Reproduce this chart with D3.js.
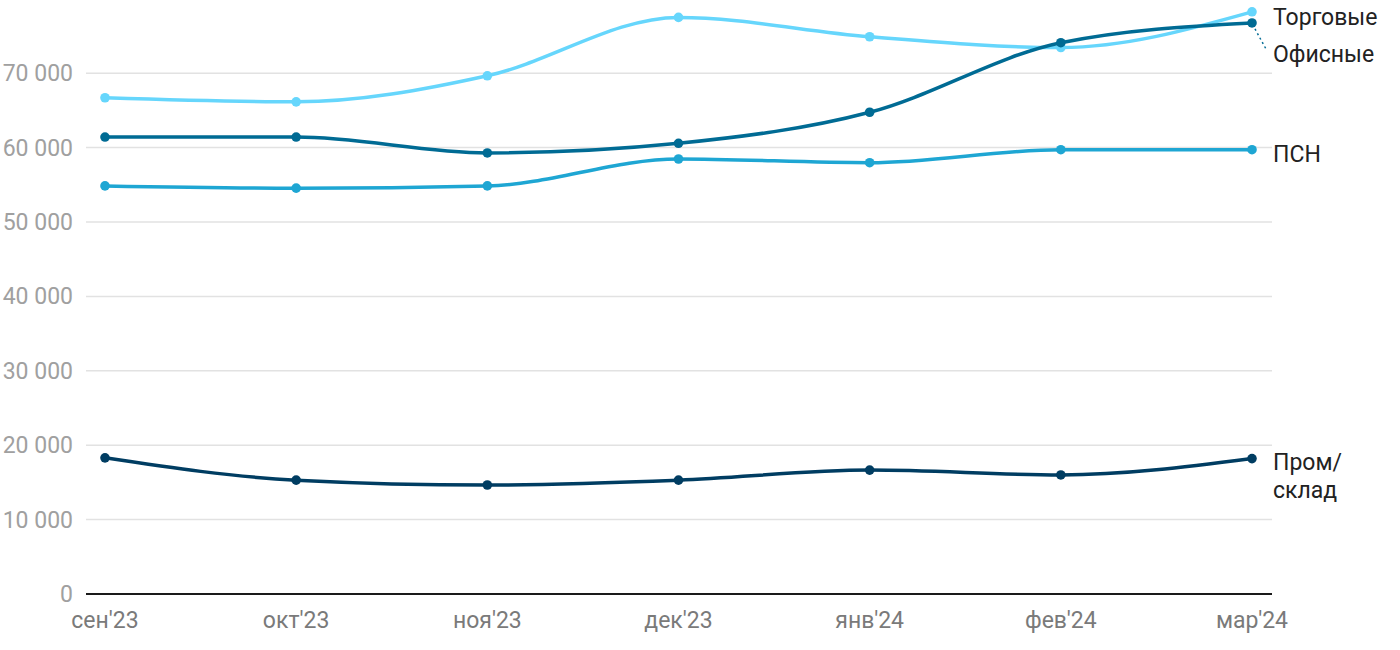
<!DOCTYPE html>
<html><head><meta charset="utf-8">
<script src="https://cdn.jsdelivr.net/npm/d3@7"></script>
<style>body{margin:0;background:#fff;} text{font-family:Roboto,"Noto Sans",sans-serif;}</style>
</head><body>
<svg id="chart" width="1400" height="650"></svg>
<script>
const categories = ["сен'23","окт'23","ноя'23","дек'23","янв'24","фев'24","мар'24"];
const trade = [66700, 66150, 69650, 77500, 74900, 73450, 78250];
const office = [61420, 61420, 59280, 60580, 64750, 74100, 76750];
const psn = [54850, 54550, 54850, 58470, 57970, 59720, 59720];
const warehouse = [18300, 15300, 14650, 15300, 16650, 16000, 18200];
const yTicks = [0, 10000, 20000, 30000, 40000, 50000, 60000, 70000];

const series = [
  {name:"ПСН", values: psn, color:"#1ea6d3"},
  {name:"Пром/склад", values: warehouse, color:"#003d62"},
  {name:"Торговые", values: trade, color:"#66d6fc"},
  {name:"Офисные", values: office, color:"#006b94"}
];

(function(){
const svg = d3.select("#chart");
const mLeft = 86, mRight = 1272, mBottom = 594;
const x = d3.scalePoint().domain(categories).range([105, 1252]);
const y = d3.scaleLinear().domain([0, 70000]).range([mBottom, mBottom - 7*74.4]);

// grid
svg.append("g").selectAll("line").data(yTicks.filter(d=>d>0)).join("line")
  .attr("x1", mLeft).attr("x2", mRight)
  .attr("y1", d=>y(d)).attr("y2", d=>y(d))
  .attr("stroke", "#e2e2e2").attr("stroke-width", 1.5);

// y labels
svg.append("g").selectAll("text").data(yTicks).join("text")
  .attr("x", 73).attr("y", d=>y(d)).attr("dy", "0.35em")
  .attr("text-anchor", "end").attr("fill", "#a0a0a0").attr("font-size", 23)
  .text(d => d===0 ? "0" : d3.format(",")(d).replace(/,/g, " "));

// baseline
svg.append("line").attr("x1", mLeft).attr("x2", mRight).attr("y1", mBottom).attr("y2", mBottom)
  .attr("stroke", "#1a1a1a").attr("stroke-width", 2);

// x labels
svg.append("g").selectAll("text").data(categories).join("text")
  .attr("x", d=>x(d)).attr("y", 628).attr("text-anchor", "middle")
  .attr("fill", "#7a7a7a").attr("font-size", 23).text(d=>d);

const line = d3.line().x((d,i)=>x(categories[i])).y(d=>y(d)).curve(d3.curveMonotoneX);

series.forEach(s => {
  svg.append("path").attr("d", line(s.values)).attr("fill","none")
    .attr("stroke", s.color).attr("stroke-width", 3.5);
  svg.append("g").selectAll("circle").data(s.values).join("circle")
    .attr("cx", (d,i)=>x(categories[i])).attr("cy", d=>y(d)).attr("r", 4.8)
    .attr("fill", s.color);
});

// labels
const lx = 1273;
const lastX = x(categories[categories.length-1]);
svg.append("line").attr("x1", lastX+3).attr("y1", y(office[6])+6).attr("x2", lastX+14).attr("y2", y(office[6])+26)
  .attr("stroke", "#006b94").attr("stroke-width", 1.5).attr("stroke-dasharray", "2,3");
const lab = (t, yy) => svg.append("text").attr("x", lx).attr("y", yy).attr("fill", "#222")
  .attr("font-size", 23).text(t);
lab("Торговые", 25);
lab("Офисные", 62);
lab("ПСН", 162);
lab("Пром/", 470);
lab("склад", 498);
})();
</script>
</body></html>
